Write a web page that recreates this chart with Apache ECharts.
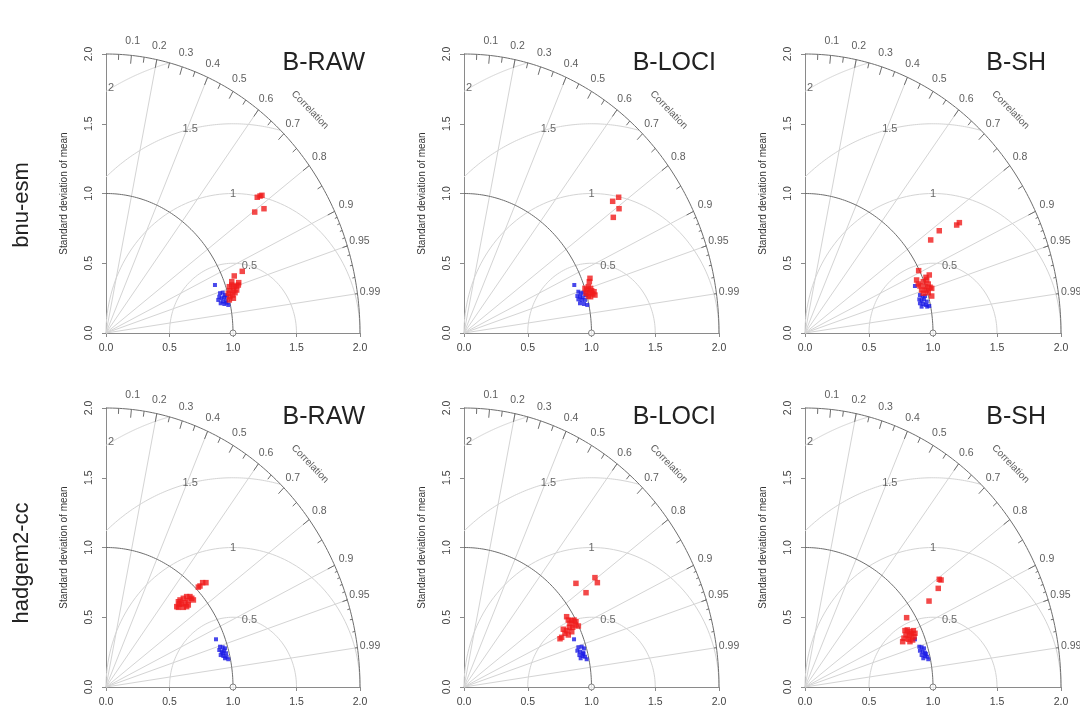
<!DOCTYPE html>
<html><head><meta charset="utf-8">
<script src="https://cdn.jsdelivr.net/npm/echarts@6/dist/echarts.min.js"></script>
<style>html,body{margin:0;padding:0;background:#fff}#c{width:1080px;height:715px}</style>
</head><body><div id="c"></div>
<script>
// ---------------- DATA ----------------
const models = ['bnu-esm', 'hadgem2-cc'];
const methods = ['B-RAW', 'B-LOCI', 'B-SH'];
const sdTickLabels = ['0.0', '0.5', '1.0', '1.5', '2.0'];
const corrLabels = [0.1, 0.2, 0.3, 0.4, 0.5, 0.6, 0.7, 0.8, 0.9, 0.95, 0.99];
const corrGridLines = [0.2, 0.4, 0.6, 0.8, 0.9, 0.95, 0.99];
const rmsLabels = [0.5, 1, 1.5, 2];
const refPoint = [[1, 0]];

// points as [sd*corr, sd*sqrt(1-corr^2)]
const redBnuRaw = [[1.191,0.973],[1.213,0.982],[1.228,0.987],[1.171,0.867],[1.244,0.891],[1.073,0.442],
 [1.010,0.409],[0.990,0.344],[0.971,0.332],[1.008,0.332],[1.029,0.337],[1.042,0.344],[0.976,0.303],
 [1.003,0.303],[1.029,0.308],[0.963,0.285],[0.997,0.272],[1.016,0.289],[0.976,0.260],[1.003,0.249],
 [0.971,0.237],[0.990,0.368],[1.045,0.361]];
const blueBnuRaw = [[0.858,0.344],[0.898,0.285],[0.919,0.289],[0.937,0.272],[0.892,0.260],[0.911,0.249],
 [0.929,0.256],[0.950,0.260],[0.884,0.237],[0.919,0.225],[0.945,0.232],[0.903,0.213],[0.932,0.208],
 [0.963,0.201],[0.950,0.217]];
const redBnuLoci = [[1.166,0.944],[1.213,0.973],[1.216,0.891],[1.171,0.829],[0.988,0.392],[0.983,0.368],
 [0.975,0.332],[0.993,0.320],[0.962,0.308],[1.001,0.303],[1.020,0.296],[0.983,0.289],[1.009,0.280],
 [1.027,0.272],[0.957,0.285],[0.975,0.265],[0.993,0.260],[0.949,0.320]];
const blueBnuLoci = [[0.865,0.344],[0.897,0.296],[0.915,0.285],[0.936,0.289],[0.889,0.265],[0.910,0.260],
 [0.931,0.256],[0.957,0.272],[0.897,0.241],[0.923,0.237],[0.949,0.237],[0.910,0.213],[0.941,0.208],
 [0.967,0.201]];
const redBnuSh = [[1.185,0.774],[1.206,0.791],[1.049,0.733],[0.982,0.667],[0.888,0.447],[0.872,0.380],
 [0.971,0.416],[0.945,0.399],[0.924,0.368],[0.951,0.380],[0.963,0.351],[0.898,0.337],[0.938,0.332],
 [0.977,0.328],[0.911,0.308],[0.951,0.308],[0.990,0.320],[0.885,0.351],[0.924,0.285],[0.963,0.289],
 [0.990,0.265]];
const blueBnuSh = [[0.859,0.337],[0.898,0.272],[0.919,0.260],[0.938,0.265],[0.893,0.241],[0.911,0.232],
 [0.930,0.241],[0.951,0.225],[0.898,0.213],[0.924,0.208],[0.945,0.201],[0.911,0.189],[0.955,0.189],
 [0.971,0.194]];
const redHadRaw = [[0.740,0.724],[0.761,0.748],[0.787,0.748],[0.727,0.716],[0.557,0.576],[0.570,0.611],
 [0.583,0.624],[0.609,0.636],[0.635,0.648],[0.661,0.648],[0.675,0.636],[0.596,0.595],[0.622,0.604],
 [0.648,0.588],[0.570,0.571],[0.609,0.571],[0.635,0.576],[0.577,0.595],[0.688,0.624],[0.648,0.619]];
const blueHadRaw = [[0.866,0.342],[0.898,0.289],[0.919,0.285],[0.937,0.277],[0.892,0.265],[0.911,0.253],
 [0.929,0.260],[0.945,0.242],[0.903,0.229],[0.924,0.222],[0.950,0.217],[0.937,0.206],[0.963,0.199],
 [0.919,0.242]];
const redHadLoci = [[1.027,0.784],[1.046,0.748],[0.878,0.743],[0.957,0.676],[0.805,0.504],[0.818,0.480],
 [0.845,0.475],[0.863,0.480],[0.878,0.468],[0.831,0.457],[0.871,0.444],[0.897,0.437],[0.779,0.414],
 [0.805,0.404],[0.845,0.396],[0.792,0.385],[0.818,0.373],[0.766,0.356],[0.753,0.346],[0.853,0.428],
 [0.826,0.428]];
const blueHadLoci = [[0.863,0.342],[0.897,0.285],[0.923,0.289],[0.941,0.277],[0.889,0.260],[0.910,0.253],
 [0.936,0.246],[0.905,0.229],[0.931,0.222],[0.949,0.217],[0.915,0.206],[0.962,0.199],[0.936,0.237]];
const redHadSh = [[1.049,0.772],[1.063,0.767],[1.041,0.707],[0.969,0.616],[0.794,0.497],[0.781,0.404],
 [0.799,0.409],[0.820,0.396],[0.846,0.404],[0.789,0.373],[0.815,0.366],[0.833,0.380],[0.859,0.385],
 [0.773,0.349],[0.807,0.342],[0.841,0.337],[0.820,0.325],[0.763,0.325],[0.852,0.360]];
const blueHadSh = [[0.859,0.342],[0.893,0.289],[0.911,0.285],[0.930,0.277],[0.898,0.260],[0.919,0.253],
 [0.938,0.246],[0.911,0.229],[0.938,0.222],[0.955,0.217],[0.924,0.206],[0.963,0.199],[0.945,0.237]];

const panelRed = [redBnuRaw, redBnuLoci, redBnuSh, redHadRaw, redHadLoci, redHadSh];
const panelBlue = [blueBnuRaw, blueBnuLoci, blueBnuSh, blueHadRaw, blueHadLoci, blueHadSh];

// ---------------- LAYOUT ----------------
const FONT = 'Liberation Sans, Arial, Helvetica, sans-serif';
const colLeft = [106, 464, 805], colWidth = [254, 255, 256];
const rowTop = [54, 408], rowHeight = [279, 279];
const titleRight = [365, 716, 1046];
const rowLabelY = [205, 563];
const rmsLabelAngle = [75, 90, 103, 118.7];
const corrWordPos = [1.606, 1.599];

function arc(cx, cy, r, a0, a1, n) {
  const out = [];
  for (let k = 0; k <= n; k++) {
    const t = (a0 + (a1 - a0) * k / n) * Math.PI / 180;
    out.push([cx + r * Math.cos(t), cy + r * Math.sin(t)]);
  }
  return out;
}
function rmsRange(r) {
  let a0 = 0, a1 = 180;
  const c0 = (4 - 1 - r * r) / (2 * r);
  if (c0 < 1) a0 = Math.acos(Math.max(-1, c0)) * 180 / Math.PI;
  const c1 = -1 / r;
  if (c1 > -1) a1 = Math.acos(c1) * 180 / Math.PI;
  return [a0, a1];
}

const grid = [], xAxis = [], yAxis = [], series = [], graphic = [];
for (let row = 0; row < 2; row++) {
  graphic.push({type: 'text', x: 22, y: rowLabelY[row], rotation: Math.PI / 2,
    style: {text: models[row], font: '22px ' + FONT, fill: '#222', textAlign: 'center', textVerticalAlign: 'middle', align: 'center', verticalAlign: 'middle'}});
  for (let col = 0; col < 3; col++) {
    const i = row * 3 + col;
    grid.push({left: colLeft[col], top: rowTop[row], width: colWidth[col], height: rowHeight[row]});
    const axCommon = {
      gridIndex: i, type: 'value', min: 0, max: 2, interval: 0.5,
      axisLine: {show: true, onZero: false, lineStyle: {color: '#8a8a8a', width: 1}},
      axisTick: {show: true, length: 4, lineStyle: {color: '#8a8a8a'}},
      splitLine: {show: false},
      axisLabel: {formatter: v => sdTickLabels[Math.round(v * 2)], color: '#444', fontSize: 10.5, fontFamily: FONT, margin: 10}
    };
    xAxis.push(Object.assign({}, axCommon));
    yAxis.push(Object.assign({}, axCommon, {
      axisLabel: Object.assign({}, axCommon.axisLabel, {rotate: 90, margin: 11}),
      name: 'Standard deviation of mean', nameLocation: 'middle', nameGap: 37, nameRotate: 90,
      nameTextStyle: {color: '#333', fontSize: 10, fontFamily: FONT}
    }));
    graphic.push({type: 'text', x: titleRight[col], y: rowTop[row] + 9,
      style: {text: methods[col], font: '25px ' + FONT, fill: '#222', textAlign: 'right', textVerticalAlign: 'middle', align: 'right', verticalAlign: 'middle'}});

    const light = [];
    corrGridLines.forEach(c => light.push({coords: [[0, 0], [2 * c, 2 * Math.sqrt(1 - c * c)]]}));
    rmsLabels.forEach(r => { const [a0, a1] = rmsRange(r); light.push({coords: arc(1, 0, r, a0, a1, 90)}); });
    series.push({type: 'lines', coordinateSystem: 'cartesian2d', xAxisIndex: i, yAxisIndex: i, polyline: true,
      silent: true, clip: false, lineStyle: {color: '#d4d4d4', width: 1, opacity: 1}, data: light, z: 1});

    const dark = [{coords: arc(0, 0, 2, 0, 90, 120)}, {coords: arc(0, 0, 1, 0, 90, 90)}];
    const tk = [];
    for (let k = 1; k <= 9; k++) tk.push([k / 10, 0.06]);
    for (let k = 0; k < 10; k++) tk.push([0.05 + k / 10, 0.04]);
    for (let k = 1; k <= 9; k++) tk.push([0.9 + k / 100, 0.02]);
    tk.forEach(([c, len]) => {
      const s = Math.sqrt(1 - c * c);
      dark.push({coords: [[2 * c, 2 * s], [(2 - len) * c, (2 - len) * s]]});
    });
    series.push({type: 'lines', coordinateSystem: 'cartesian2d', xAxisIndex: i, yAxisIndex: i, polyline: true,
      silent: true, clip: false, lineStyle: {color: '#6e6e6e', width: 1, opacity: 1}, data: dark, z: 2});

    const cl = corrLabels.map(c => ({name: String(c), value: [2.1 * c, 2.1 * Math.sqrt(1 - c * c)]}));
    cl.push({name: 'Correlation', value: corrWordPos, label: {rotate: -46, fontSize: 10}});
    series.push({type: 'scatter', xAxisIndex: i, yAxisIndex: i, symbolSize: 0, silent: true, clip: false, data: cl,
      label: {show: true, position: 'inside', formatter: '{b}', color: '#333', fontSize: 10.5, fontFamily: FONT}, z: 3});
    const rl = rmsLabels.map((r, k) => {
      const t = rmsLabelAngle[k] * Math.PI / 180;
      return {name: String(r), value: [1 + r * Math.cos(t), r * Math.sin(t)]};
    });
    series.push({type: 'scatter', xAxisIndex: i, yAxisIndex: i, symbolSize: 0, silent: true, clip: false, data: rl,
      label: {show: true, position: 'inside', formatter: '{b}', color: '#444', fontSize: 11, fontFamily: FONT}, z: 3});
    series.push({type: 'scatter', xAxisIndex: i, yAxisIndex: i, symbol: 'circle', symbolSize: 6, clip: false, data: refPoint,
      itemStyle: {color: '#fff', borderColor: '#666', borderWidth: 1}, z: 4});
    series.push({type: 'scatter', xAxisIndex: i, yAxisIndex: i, symbol: 'rect', symbolSize: 4, data: panelBlue[i],
      itemStyle: {color: '#1c1ce6'}, z: 5});
    series.push({type: 'scatter', xAxisIndex: i, yAxisIndex: i, symbol: 'rect', symbolSize: 5.5, data: panelRed[i],
      itemStyle: {color: '#f01c1c'}, z: 6});
  }
}

const chart = echarts.init(document.getElementById('c'), null, {renderer: 'canvas'});
chart.setOption({backgroundColor: '#fff', animation: false, grid, xAxis, yAxis, series, graphic});
</script></body></html>
